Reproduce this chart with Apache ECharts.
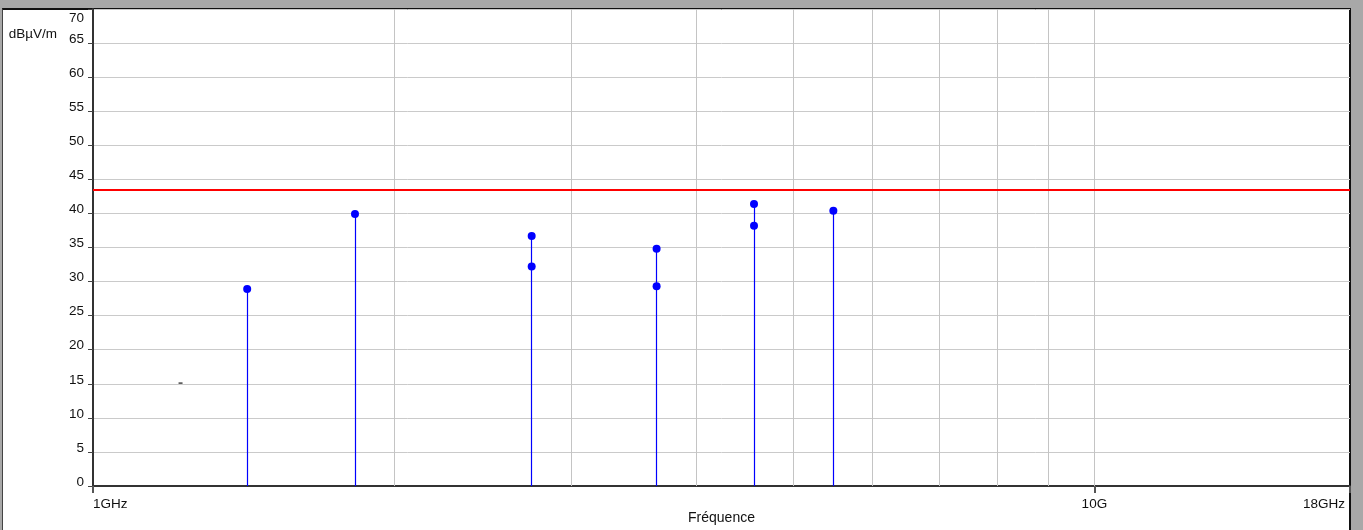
<!DOCTYPE html>
<html><head><meta charset="utf-8">
<script src="https://cdn.jsdelivr.net/npm/echarts@6/dist/echarts.min.js"></script>
<style>
html,body{margin:0;padding:0;background:#a8a8a8;width:1363px;height:530px;overflow:hidden}
#panel{position:absolute;left:2px;top:8px;width:1349px;height:522px;background:#fff;border-left:1px solid #444;border-top:2px solid #111;border-right:2px solid #111;box-sizing:border-box}
#chart{position:absolute;left:0;top:0;width:1363px;height:530px}
</style></head><body>
<div id="panel"></div><div id="chart"></div>
<script>
// Measured points (frequency in GHz, level in dBµV/m)
const freqGHz = [1.4255, 1.8265, 2.742, 2.742, 3.6545, 3.6545, 4.572, 4.572, 5.487];
const levels  = [28.9, 39.9, 36.7, 32.2, 34.8, 29.3, 41.4, 38.2, 40.4];
// small isolated marker
const markFreq = [1.223];
const markLevel = [15.1];
// limit line
const limitLevel = 43.5;
// vertical grid frequencies
const gridFreqs = [2, 3, 4, 5, 6, 7, 8, 9, 10];
// x tick labels
const xTickValues = [1, 10, 18];
const xTickLabels = ['1GHz', '10G', '18GHz'];

const FONT = "'Liberation Sans', Arial, sans-serif";
const FS = 13.5;

// stems: highest level at each frequency
const stemMap = {};
freqGHz.forEach((f, i) => { stemMap[f] = Math.max(stemMap[f] ?? -Infinity, levels[i]); });
const stems = Object.keys(stemMap).map(k => [Number(k), stemMap[k]]);

const chart = echarts.init(document.getElementById('chart'), null, {renderer: 'canvas'});
chart.setOption({
  backgroundColor: 'transparent',
  animation: false,
  textStyle: {fontFamily: FONT},
  grid: {left: 93, right: 13, top: 9, bottom: 44, containLabel: false, outerBoundsMode: 'none'},
  xAxis: {
    type: 'log', logBase: 10, min: 1, max: 18,
    name: 'Fréquence', nameLocation: 'middle', nameGap: 25, nameMoveOverlap: false,
    nameTextStyle: {color: '#111', fontSize: 14, fontFamily: FONT},
    axisLine: {show: true, lineStyle: {color: '#333', width: 2}},
    axisTick: {show: true, length: 7, lineStyle: {color: '#555', width: 2}},
    axisLabel: {
      margin: 11, color: '#111', fontSize: FS, fontFamily: FONT,
      showMinLabel: true, showMaxLabel: true,
      alignMinLabel: 'left', alignMaxLabel: 'right',
      formatter: v => {
        let best = 0, d = Infinity;
        xTickValues.forEach((t, i) => { const dd = Math.abs(Math.log10(v) - Math.log10(t)); if (dd < d) { d = dd; best = i; } });
        if (d >= 0.01) return '';
        return best === xTickValues.length - 1 ? '{e|' + xTickLabels[best] + '}' : xTickLabels[best];
      },
      rich: {e: {fontSize: FS, fontFamily: FONT, color: '#111', padding: [0, 5, 0, 0]}}
    },
    splitLine: {show: false},
    minorTick: {show: false}
  },
  yAxis: {
    type: 'value', min: 0, max: 70, interval: 5,
    name: 'dBµV/m', nameLocation: 'end', nameGap: -32, nameMoveOverlap: false,
    nameTextStyle: {color: '#111', fontSize: FS, fontFamily: FONT, align: 'right', padding: [0, 36, 0, 0]},
    axisLine: {show: true, lineStyle: {color: '#333', width: 2}},
    axisTick: {show: true, length: 5, lineStyle: {color: '#444', width: 1}},
    axisLabel: {
      margin: 9, color: '#111', fontSize: FS, fontFamily: FONT,
      padding: [0, 0, 8, 0],
      formatter: v => v === 70 ? '{t|70}' : String(v),
      rich: {t: {fontSize: FS, fontFamily: FONT, color: '#111', padding: [26, 0, 0, 0]}}
    },
    splitLine: {show: true, lineStyle: {color: '#cacaca', width: 1}}
  },
  series: [
    {
      type: 'scatter', name: 'grid', z: 1, silent: true,
      data: [],
      markLine: {
        silent: true, symbol: 'none', animation: false,
        label: {show: false},
        lineStyle: {color: '#c4c4c4', type: 'solid', width: 1},
        data: gridFreqs.map(f => ({xAxis: f}))
      }
    },
    {
      type: 'scatter', name: 'levels', z: 5,
      data: freqGHz.map((f, i) => [f, levels[i]]),
      symbol: 'circle', symbolSize: 8,
      itemStyle: {color: '#0000ff', opacity: 1},
      markLine: {
        silent: true, symbol: 'none', animation: false,
        label: {show: false},
        data: [
          {yAxis: limitLevel, lineStyle: {color: '#ff0000', type: 'solid', width: 2}},
          ...stems.map(s => [
            {coord: [s[0], 0], lineStyle: {color: '#0000ff', type: 'solid', width: 1.2}},
            {coord: [s[0], s[1]]}
          ])
        ]
      }
    },
    {
      type: 'scatter', name: 'mark', z: 4,
      data: markFreq.map((f, i) => [f, markLevel[i]]),
      symbol: 'rect', symbolSize: [4, 1.5],
      itemStyle: {color: '#444', opacity: 1}
    }
  ]
});
</script>
</body></html>
